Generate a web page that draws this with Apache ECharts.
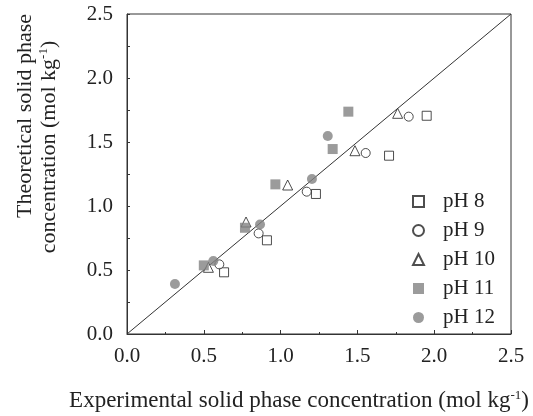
<!DOCTYPE html>
<html><head><meta charset="utf-8">
<script src="https://cdn.jsdelivr.net/npm/echarts@6/dist/echarts.min.js"></script>
<style>html,body{margin:0;padding:0;background:#fff}#c{width:533px;height:416px}</style>
</head><body><div id="c"></div>
<script>
var seriesNames = ['pH 8', 'pH 9', 'pH 10', 'pH 11', 'pH 12'];
var pH8 = [[0.632,0.482],[0.911,0.732],[1.230,1.094],[1.706,1.393],[1.951,1.705]];
var pH9 = [[0.601,0.544],[0.857,0.786],[1.170,1.112],[1.554,1.414],[1.834,1.698]];
var pH10 = [[0.530,0.521],[0.775,0.875],[1.046,1.164],[1.484,1.432],[1.762,1.724]];
var pH11 = [[0.500,0.536],[0.768,0.830],[0.966,1.169],[1.339,1.445],[1.441,1.737]];
var pH12 = [[0.312,0.391],[0.562,0.570],[0.866,0.855],[1.204,1.211],[1.307,1.547]];
var lineOfEquality = [[0,0],[2.5,2.5]];
var xTitle = 'Experimental solid phase concentration (mol kg';
var yTitle1 = 'Theoretical solid phase';
var yTitle2 = 'concentration (mol kg';

var FONT = '"Liberation Serif", "Times New Roman", serif';
var GRAY = '#828282';
var chart = echarts.init(document.getElementById('c'));
function open(name, data, symbol, size) {
  return {name: name, type: 'scatter', data: data, symbol: symbol, symbolSize: size,
    itemStyle: {color: '#fff', borderColor: '#222', borderWidth: 1}, z: 3};
}
function filled(name, data, symbol, size) {
  return {name: name, type: 'scatter', data: data, symbol: symbol, symbolSize: size,
    itemStyle: {color: GRAY, borderColor: GRAY, borderWidth: 0}, z: 4};
}
var axisCommon = {
  min: 0, max: 2.5, interval: 0.5,
  axisLine: {show: true, lineStyle: {color: '#333', width: 1}},
  axisTick: {show: true, inside: true, length: 4, lineStyle: {color: '#333'}},
  minorTick: {show: true, splitNumber: 2, length: 2, lineStyle: {color: '#333'}},
  splitLine: {show: false},
  axisLabel: {fontFamily: FONT, fontSize: 21, color: '#222', formatter: function(v){return v.toFixed(1);}}
};
chart.setOption({
  animation: false,
  grid: {left: 127, right: 22, top: 14, bottom: 82, show: true, borderColor: '#333', borderWidth: 1},
  xAxis: Object.assign({}, axisCommon, {type: 'value', axisLabel: Object.assign({}, axisCommon.axisLabel, {margin: 12})}),
  yAxis: Object.assign({}, axisCommon, {type: 'value',
    axisTick: {show: true, inside: true, length: 3, lineStyle: {color: '#333'}},
    minorTick: {show: true, splitNumber: 2, length: 3, lineStyle: {color: '#333'}},
    axisLabel: Object.assign({}, axisCommon.axisLabel, {margin: 14})}),
  legend: {
    orient: 'vertical', left: 407, top: 186, itemGap: 8, itemWidth: 11, itemHeight: 11,
    data: seriesNames,
    textStyle: {fontFamily: FONT, fontSize: 21, color: '#222', padding: [0,0,0,14]}
  },
  graphic: [
    {type: 'text', x: 299, y: 401, style: {
      text: '{a|' + xTitle + '}{s|-1}{a|)}', align: 'center', verticalAlign: 'middle',
      rich: {a: {fontFamily: FONT, fontSize: 23, fill: '#222'}, s: {fontFamily: FONT, fontSize: 13, fill: '#222', padding: [0,0,11,0]}}}},
    {type: 'text', x: 25, y: 116, rotation: Math.PI/2, style: {
      text: yTitle1, align: 'center', verticalAlign: 'middle', fontFamily: FONT, fontSize: 22, fill: '#222'}},
    {type: 'text', x: 49, y: 147, rotation: Math.PI/2, style: {
      text: '{a|' + yTitle2 + '}{s|-1}{a|)}', align: 'center', verticalAlign: 'middle',
      rich: {a: {fontFamily: FONT, fontSize: 22, fill: '#222'}, s: {fontFamily: FONT, fontSize: 13, fill: '#222', padding: [0,0,11,0]}}}}
  ],
  series: [
    {type: 'line', data: lineOfEquality, symbol: 'none', silent: true, lineStyle: {color: '#333', width: 1}, z: 2},
    open('pH 8', pH8, 'rect', 9),
    open('pH 9', pH9, 'circle', 9),
    open('pH 10', pH10, 'triangle', 10),
    filled('pH 11', pH11, 'rect', 10),
    filled('pH 12', pH12, 'circle', 10)
  ]
});
</script></body></html>
